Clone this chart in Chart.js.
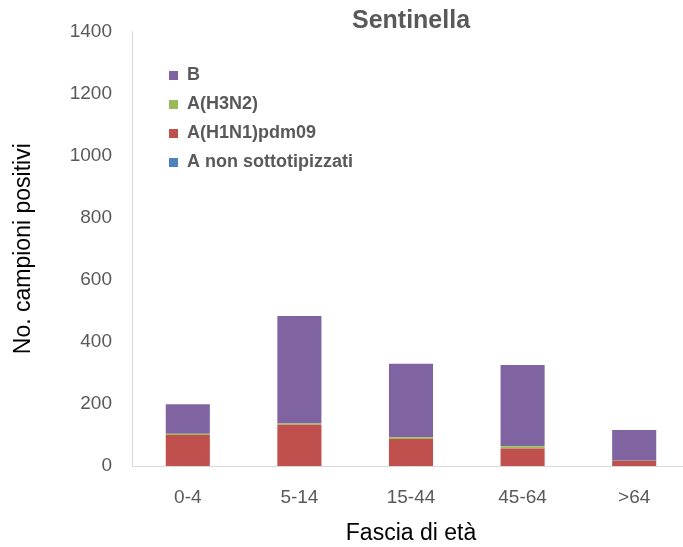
<!DOCTYPE html>
<html>
<head>
<meta charset="utf-8">
<script src="https://cdn.jsdelivr.net/npm/chart.js@4/dist/chart.umd.min.js"></script>
<style>
  html, body { margin: 0; padding: 0; background: #ffffff; overflow: hidden; }
  #wrap { width: 700px; height: 547px; }
</style>
</head>
<body>
<div id="wrap"><canvas id="c" width="700" height="547"></canvas></div>
<script>
// Age groups and positive samples per influenza type (sentinel surveillance)
const ageGroups = ['0-4', '5-14', '15-44', '45-64', '>64'];
const aNonSottotipizzati = [0, 0, 0, 0, 0];
const aH1N1pdm09 = [100, 133, 87, 56, 16];
const aH3N2 = [4, 4, 6, 8, 1];
const typeB = [95, 346, 236, 261, 99];
const yTicks = [0, 200, 400, 600, 800, 1000, 1200, 1400];

const FONT = '"Liberation Sans", Arial, sans-serif';
const GREY_TEXT = '#595959';

// Chart title centred over the plot area
const plotTitle = {
  id: 'plotTitle',
  afterDraw(chart) {
    const { ctx, chartArea } = chart;
    ctx.save();
    ctx.font = 'bold 25px ' + FONT;
    ctx.fillStyle = GREY_TEXT;
    ctx.textAlign = 'center';
    ctx.textBaseline = 'middle';
    ctx.fillText('Sentinella', (chartArea.left + chartArea.right) / 2, 21);
    ctx.restore();
  }
};

// Put the legend box in the upper-left part of the plot area
const legendPlacement = {
  id: 'legendPlacement',
  afterLayout(chart) {
    const lg = chart.legend;
    const ca = chart.chartArea;
    const w = lg.width, h = lg.height;
    lg.left = ca.left + 26;
    lg.top = ca.top + 24;
    lg.right = lg.left + w;
    lg.bottom = lg.top + h;
  }
};

new Chart(document.getElementById('c'), {
  type: 'bar',
  data: {
    labels: ageGroups,
    datasets: [
      { label: 'A non sottotipizzati', data: aNonSottotipizzati, backgroundColor: '#4F81BD' },
      { label: 'A(H1N1)pdm09', data: aH1N1pdm09, backgroundColor: '#C0504D' },
      { label: 'A(H3N2)', data: aH3N2, backgroundColor: '#9BBB59' },
      { label: 'B', data: typeB, backgroundColor: '#8064A2' }
    ]
  },
  options: {
    responsive: false,
    animation: false,
    devicePixelRatio: 1,
    layout: { padding: { top: 31, right: 10, bottom: 0, left: 0 } },
    datasets: {
      bar: { categoryPercentage: 1, barPercentage: 0.395, borderWidth: 0 }
    },
    plugins: {
      title: { display: false },
      tooltip: { enabled: false },
      legend: {
        position: 'chartArea',
        align: 'start',
        reverse: true,
        labels: {
          boxWidth: 9,
          boxHeight: 9,
          padding: 11,
          color: GREY_TEXT,
          font: { family: FONT, size: 18, weight: 'bold' }
        }
      }
    },
    scales: {
      x: {
        stacked: true,
        grid: { display: false, drawTicks: false },
        border: { display: true, color: '#D9D9D9', width: 1 },
        ticks: { color: GREY_TEXT, padding: 20, font: { family: FONT, size: 19 } },
        title: {
          display: true,
          text: 'Fascia di età',
          color: '#000000',
          font: { family: FONT, size: 23 },
          padding: { top: 10, bottom: 0 }
        },
        afterFit(scale) { scale.height = 81; }
      },
      y: {
        stacked: true,
        min: 0,
        max: 1400,
        afterBuildTicks(scale) { scale.ticks = yTicks.map(v => ({ value: v })); },
        grid: { display: false, drawTicks: false },
        border: { display: true, color: '#D9D9D9', width: 1 },
        ticks: {
          color: GREY_TEXT,
          padding: 20,
          font: { family: FONT, size: 19 },
          callback: (v) => String(v)
        },
        title: {
          display: true,
          text: 'No. campioni positivi',
          color: '#000000',
          font: { family: FONT, size: 23 },
          padding: { top: 10, bottom: 10 }
        },
        afterFit(scale) { scale.width = 132; }
      }
    }
  },
  plugins: [plotTitle, legendPlacement]
});
</script>
</body>
</html>
